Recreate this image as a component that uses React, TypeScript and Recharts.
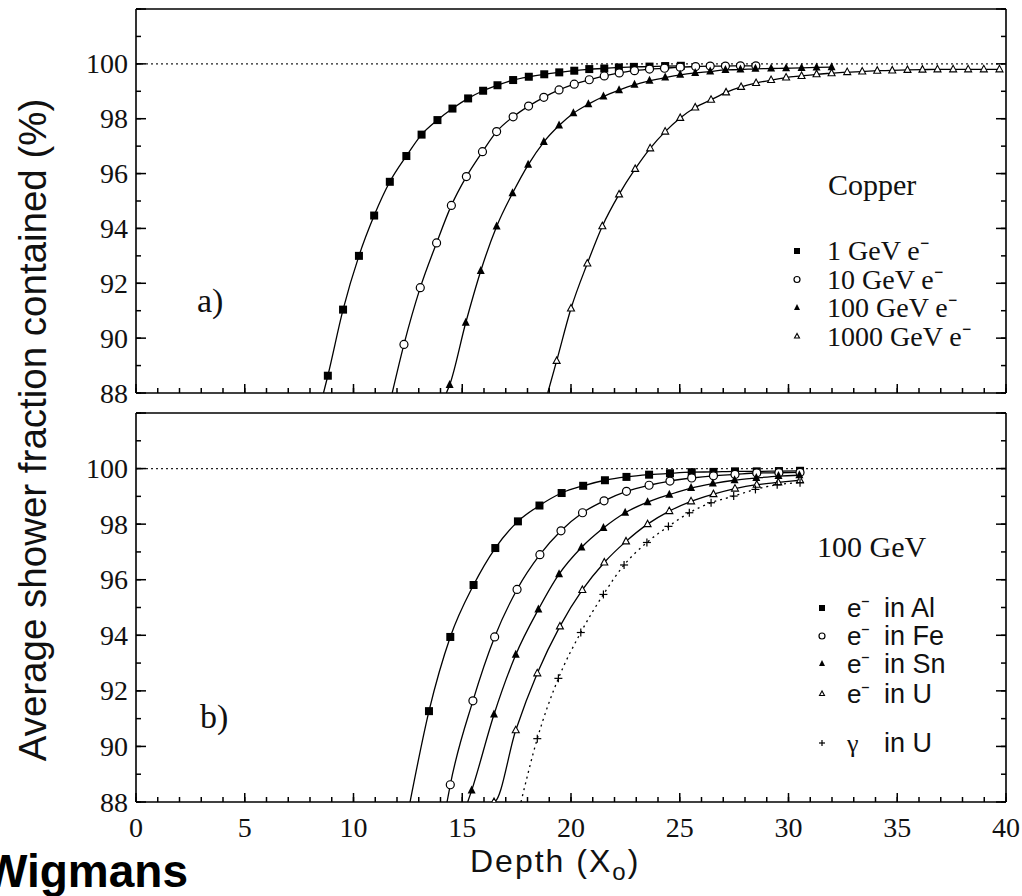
import React from "react";
import { ComposedChart, Line, XAxis, YAxis, ReferenceLine, Legend } from "recharts";

const SERIF = '"Liberation Serif", "Times New Roman", serif';
const SANS = '"Liberation Sans", Arial, sans-serif';

// ---- panel a) Copper, electrons of different energies ----
const cu1X = [8.82, 9.52, 10.25, 10.95, 11.67, 12.43, 13.13, 13.86, 14.55, 15.27, 15.96, 16.62, 17.34, 18.06, 18.77, 19.46, 20.15, 20.84, 21.53, 22.2, 22.89, 23.61, 24.33, 25.05];
const cu1Y = [88.63, 91.04, 93.0, 94.47, 95.7, 96.64, 97.42, 97.95, 98.37, 98.74, 99.02, 99.22, 99.41, 99.53, 99.62, 99.69, 99.75, 99.81, 99.83, 99.87, 99.89, 99.9, 99.92, 99.93];

const cu10X = [12.32, 13.07, 13.82, 14.5, 15.19, 15.93, 16.58, 17.34, 18.05, 18.75, 19.45, 20.15, 20.84, 21.53, 22.22, 22.92, 23.61, 24.3, 25.02, 25.73, 26.4, 27.1, 27.79, 28.5];
const cu10Y = [89.77, 91.84, 93.47, 94.84, 95.89, 96.8, 97.53, 98.07, 98.46, 98.78, 99.05, 99.26, 99.42, 99.56, 99.67, 99.75, 99.81, 99.84, 99.88, 99.9, 99.92, 99.92, 99.93, 99.93];

const cu100X = [14.42, 15.16, 15.85, 16.58, 17.31, 18.03, 18.75, 19.45, 20.11, 20.8, 21.49, 22.21, 22.92, 23.61, 24.33, 25.02, 25.71, 26.4, 27.1, 27.79, 28.48, 29.2, 29.89, 30.6, 31.29, 31.98];
const cu100Y = [88.29, 90.56, 92.45, 94.07, 95.28, 96.32, 97.15, 97.75, 98.2, 98.53, 98.81, 99.04, 99.24, 99.38, 99.5, 99.6, 99.67, 99.72, 99.78, 99.79, 99.82, 99.83, 99.84, 99.85, 99.87, 99.88];

const cu1000X = [19.34, 20.0, 20.75, 21.44, 22.21, 22.95, 23.64, 24.33, 25.02, 25.71, 26.44, 27.13, 27.82, 28.51, 29.2, 29.89, 30.6, 31.29, 31.98, 32.7, 33.39, 34.08, 34.77, 35.47, 36.16, 36.85, 37.57, 38.26, 38.98, 39.7];
const cu1000Y = [89.17, 91.08, 92.72, 94.08, 95.24, 96.17, 96.92, 97.53, 98.03, 98.41, 98.69, 98.96, 99.16, 99.3, 99.41, 99.5, 99.56, 99.62, 99.66, 99.7, 99.72, 99.75, 99.76, 99.78, 99.79, 99.8, 99.8, 99.8, 99.8, 99.8];

// depth where each fitted curve leaves the 88% floor
const cuCurveStart = [8.62, 11.78, 14.27, 18.93];

// ---- panel b) 100 GeV in different absorbers ----
const alX = [13.47, 14.45, 15.52, 16.52, 17.56, 18.55, 19.57, 20.56, 21.56, 22.55, 23.59, 24.55, 25.55, 26.55, 27.54, 28.54, 29.56, 30.53];
const alY = [91.27, 93.94, 95.81, 97.14, 98.1, 98.67, 99.12, 99.38, 99.58, 99.7, 99.78, 99.83, 99.87, 99.88, 99.9, 99.9, 99.91, 99.92];

const feX = [14.45, 15.49, 16.49, 17.52, 18.57, 19.54, 20.53, 21.52, 22.55, 23.59, 24.55, 25.55, 26.55, 27.54, 28.54, 29.56, 30.53];
const feY = [88.62, 91.64, 93.94, 95.65, 96.9, 97.76, 98.41, 98.84, 99.18, 99.4, 99.55, 99.66, 99.74, 99.79, 99.84, 99.85, 99.86];

const snX = [15.43, 16.46, 17.46, 18.5, 19.45, 20.48, 21.49, 22.49, 23.52, 24.52, 25.52, 26.52, 27.52, 28.52, 29.54, 30.5];
const snY = [88.41, 91.15, 93.3, 94.93, 96.2, 97.16, 97.86, 98.41, 98.79, 99.06, 99.3, 99.46, 99.58, 99.66, 99.73, 99.76];

const uX = [16.46, 17.46, 18.45, 19.49, 20.52, 21.53, 22.53, 23.52, 24.52, 25.52, 26.55, 27.54, 28.54, 29.53, 30.53];
const uY = [88.0, 90.58, 92.63, 94.32, 95.63, 96.62, 97.38, 98.0, 98.47, 98.82, 99.08, 99.28, 99.42, 99.5, 99.58];

const gammaX = [18.45, 19.42, 20.45, 21.49, 22.44, 23.49, 24.48, 25.44, 26.44, 27.48, 28.48, 29.48, 30.53];
const gammaY = [90.28, 92.45, 94.1, 95.47, 96.53, 97.34, 97.92, 98.41, 98.77, 99.01, 99.25, 99.42, 99.49];

const bCurveStart = [12.6, 14.3, 15.25, 16.4, 17.7];

// axes
const xTicks = [0, 1, 2, 3, 4, 5, 6, 7, 8, 9, 10, 11, 12, 13, 14, 15, 16, 17, 18, 19, 20, 21, 22, 23, 24, 25, 26, 27, 28, 29, 30, 31, 32, 33, 34, 35, 36, 37, 38, 39, 40];
const yTicks = [88, 89, 90, 91, 92, 93, 94, 95, 96, 97, 98, 99, 100, 101, 102];
const FLOOR = 88;

const cuLabels = ["1 GeV e⁻", "10 GeV e⁻", "100 GeV e⁻", "1000 GeV e⁻"];
const bLabels = ["e⁻", "e⁻", "e⁻", "e⁻", "γ"];
const bTargets = ["in Al", "in Fe", "in Sn", "in U", "in U"];

type Shape = "square" | "circle" | "tri" | "triOpen" | "plus";

const toData = (start: number, xs: number[], ys: number[]) => [
  { x: start, y: FLOOR, bare: true },
  ...xs.map((x, i) => ({ x, y: ys[i] })),
];

const seriesA = [
  { id: "cu1", shape: "square" as Shape, data: toData(cuCurveStart[0], cu1X, cu1Y) },
  { id: "cu10", shape: "circle" as Shape, data: toData(cuCurveStart[1], cu10X, cu10Y) },
  { id: "cu100", shape: "tri" as Shape, data: toData(cuCurveStart[2], cu100X, cu100Y) },
  { id: "cu1000", shape: "triOpen" as Shape, data: toData(cuCurveStart[3], cu1000X, cu1000Y) },
];

const seriesB = [
  { id: "al", shape: "square" as Shape, data: toData(bCurveStart[0], alX, alY) },
  { id: "fe", shape: "circle" as Shape, data: toData(bCurveStart[1], feX, feY) },
  { id: "sn", shape: "tri" as Shape, data: toData(bCurveStart[2], snX, snY) },
  { id: "u", shape: "triOpen" as Shape, data: toData(bCurveStart[3], uX, uY) },
  { id: "gamma", shape: "plus" as Shape, data: toData(bCurveStart[4], gammaX, gammaY), dotted: true },
];

function Marker({ shape, cx, cy, s = 8 }: { shape: Shape; cx: number; cy: number; s?: number }) {
  const h = s / 2;
  switch (shape) {
    case "square":
      return <rect x={cx - h} y={cy - h} width={s} height={s} fill="#000" />;
    case "circle":
      return <circle cx={cx} cy={cy} r={h} fill="#fff" stroke="#000" strokeWidth={1.2} />;
    case "tri":
      return <polygon points={`${cx},${cy - h - 1} ${cx - h},${cy + h - 1} ${cx + h},${cy + h - 1}`} fill="#000" />;
    case "triOpen":
      return (
        <polygon
          points={`${cx},${cy - h} ${cx - h + 0.5},${cy + h - 1.5} ${cx + h - 0.5},${cy + h - 1.5}`}
          fill="#fff"
          stroke="#000"
          strokeWidth={1.1}
        />
      );
    default:
      return (
        <g stroke="#000" strokeWidth={1.2}>
          <line x1={cx - h} x2={cx + h} y1={cy} y2={cy} />
          <line x1={cx} x2={cx} y1={cy - h} y2={cy + h} />
        </g>
      );
  }
}

const dotFor = (shape: Shape) => (props: any) => {
  const { cx, cy, payload, index } = props;
  if (!payload || payload.bare || cx == null || cy == null) return <g key={`b${index}`} />;
  return (
    <g key={`m${index}`}>
      <Marker shape={shape} cx={cx} cy={cy} />
    </g>
  );
};

const axisStyle = { stroke: "#000", strokeWidth: 1.6 };
const tickLineStyle = { stroke: "#000", strokeWidth: 1.5 };
const TICK_IN = 5; // minor tick length (inward)
const MAJOR = 9; // major tick length

// labels and the longer major ticks; the short inward tick comes from tickLine
const BottomTick = (props: any) => {
  const { x, y, payload, showLabel } = props;
  const v = payload.value;
  if (v % 5 !== 0) return <g />;
  const axisY = y + TICK_IN;
  return (
    <g>
      <line x1={x} x2={x} y1={axisY} y2={axisY - MAJOR} stroke="#000" strokeWidth={1.5} />
      {showLabel && (
        <text x={x} y={axisY + 35} textAnchor="middle" fontFamily={SERIF} fontSize={28} fill="#111">
          {v}
        </text>
      )}
    </g>
  );
};

const TopTick = (props: any) => {
  const { x, y, payload } = props;
  if (payload.value % 5 !== 0) return <g />;
  const axisY = y - TICK_IN;
  return <line x1={x} x2={x} y1={axisY} y2={axisY + MAJOR} stroke="#000" strokeWidth={1.5} />;
};

const LeftTick = (props: any) => {
  const { x, y, payload } = props;
  const v = payload.value;
  if (v % 2 !== 0) return <g />;
  const axisX = x - TICK_IN;
  return (
    <g>
      <line x1={axisX} x2={axisX + MAJOR + 1} y1={y} y2={y} stroke="#000" strokeWidth={1.5} />
      {v <= 100 && (
        <text x={axisX - 8} y={y + 9.5} textAnchor="end" fontFamily={SERIF} fontSize={28} fill="#111">
          {v}
        </text>
      )}
    </g>
  );
};

const RightTick = (props: any) => {
  const { x, y, payload } = props;
  if (payload.value % 2 !== 0) return <g />;
  const axisX = x + TICK_IN;
  return <line x1={axisX} x2={axisX - MAJOR - 1} y1={y} y2={y} stroke="#000" strokeWidth={1.5} />;
};

const CopperLegend = () => (
  <svg width={240} height={220} style={{ display: "block" }}>
    <text x={48} y={45} fontFamily={SERIF} fontSize={30} fill="#111">
      Copper
    </text>
    {seriesA.map((s, i) => {
      const base = 110 + i * 28.5;
      return (
        <g key={s.id}>
          <Marker shape={s.shape} cx={17} cy={base - 9} s={6} />
          <text x={47} y={base} fontFamily={SERIF} fontSize={28} fill="#111">
            {cuLabels[i]}
          </text>
        </g>
      );
    })}
  </svg>
);

const AbsorberLegend = () => {
  const bases = [87, 115, 143, 173, 222];
  return (
    <svg width={240} height={240} style={{ display: "block" }}>
      <text x={37} y={27} fontFamily={SERIF} fontSize={30} fill="#111">
        100 GeV
      </text>
      {seriesB.map((s, i) => (
        <g key={s.id}>
          <Marker shape={s.shape} cx={42} cy={bases[i] - 9} s={6} />
          <text x={67} y={bases[i]} fontFamily={i < 4 ? SANS : SERIF} fontSize={26} fill="#111">
            {bLabels[i]}
          </text>
          <text x={104} y={bases[i]} fontFamily={SANS} fontSize={27} fill="#111">
            {bTargets[i]}
          </text>
        </g>
      ))}
    </svg>
  );
};

const DepthLabel = (props: any) => {
  const vb = props.viewBox || { x: 136, y: 802 };
  const x = vb.x + 334;
  const y = vb.y + 70;
  return (
    <text x={x} y={y} fontFamily={SANS} fontSize={32} letterSpacing={2} fill="#111">
      Depth (X
      <tspan dy={8} fontSize={24}>
        o
      </tspan>
      <tspan dy={-8}>)</tspan>
    </text>
  );
};

type PanelProps = {
  series: { id: string; shape: Shape; data: any[]; dotted?: boolean }[];
  height: number;
  marginTop: number;
  marginBottom: number;
  axisHeight: number;
  showXLabels: boolean;
  legend: () => React.ReactElement;
  legendPos: { left: number; top: number; width: number; height: number };
};

function Panel({ series, height, marginTop, marginBottom, axisHeight, showXLabels, legend, legendPos }: PanelProps) {
  return (
    <ComposedChart width={1022} height={height} margin={{ top: marginTop, right: 15, bottom: marginBottom, left: 0 }}>
      <XAxis
        dataKey="x"
        type="number"
        domain={[0, 40]}
        ticks={xTicks}
        interval={0}
        allowDataOverflow
        height={axisHeight}
        tickSize={-TICK_IN}
        tickMargin={0}
        tickLine={tickLineStyle}
        axisLine={axisStyle}
        tick={(p: any) => <BottomTick {...p} showLabel={showXLabels} />}
        label={showXLabels ? <DepthLabel /> : undefined}
      />
      <XAxis
        xAxisId="t"
        orientation="top"
        type="number"
        domain={[0, 40]}
        ticks={xTicks}
        interval={0}
        allowDataOverflow
        height={1}
        tickSize={-TICK_IN}
        tickMargin={0}
        tickLine={tickLineStyle}
        axisLine={axisStyle}
        tick={TopTick}
      />
      <YAxis
        type="number"
        domain={[88, 102]}
        ticks={yTicks}
        interval={0}
        allowDataOverflow
        width={136}
        tickSize={-TICK_IN}
        tickMargin={0}
        tickLine={tickLineStyle}
        axisLine={axisStyle}
        tick={LeftTick}
      />
      <YAxis
        yAxisId="r"
        orientation="right"
        type="number"
        domain={[88, 102]}
        ticks={yTicks}
        interval={0}
        allowDataOverflow
        width={1}
        tickSize={-TICK_IN}
        tickMargin={0}
        tickLine={tickLineStyle}
        axisLine={axisStyle}
        tick={RightTick}
      />
      <ReferenceLine y={100} stroke="#222" strokeWidth={1.2} strokeDasharray="2 3" />
      <ReferenceLine xAxisId="t" yAxisId="r" y={100} stroke="none" />
      {series.map((s) => (
        <Line
          key={s.id}
          data={s.data}
          dataKey="y"
          type="monotone"
          stroke="#000"
          strokeWidth={1.3}
          strokeDasharray={s.dotted ? "2 4" : undefined}
          dot={dotFor(s.shape)}
          activeDot={false}
          isAnimationActive={false}
          legendType="none"
        />
      ))}
      <Legend
        layout="horizontal"
        verticalAlign="middle"
        align="center"
        content={legend}
        wrapperStyle={{ ...legendPos, position: "absolute" }}
      />
    </ComposedChart>
  );
}

export default function App() {
  return (
    <div style={{ position: "absolute", left: 0, top: 0, width: 1022, height: 896, background: "#fff", overflow: "hidden" }}>
      <div style={{ position: "absolute", left: 0, top: 0 }}>
        <Panel
          series={seriesA}
          height={412}
          marginTop={8}
          marginBottom={18}
          axisHeight={1}
          showXLabels={false}
          legend={CopperLegend}
          legendPos={{ left: 780, top: 150, width: 240, height: 220 }}
        />
      </div>
      <div style={{ position: "absolute", left: 0, top: 400 }}>
        <Panel
          series={seriesB}
          height={496}
          marginTop={12}
          marginBottom={0}
          axisHeight={94}
          showXLabels
          legend={AbsorberLegend}
          legendPos={{ left: 780, top: 130, width: 240, height: 240 }}
        />
      </div>
      <svg width={1022} height={896} style={{ position: "absolute", left: 0, top: 0, pointerEvents: "none" }}>
        <text
          x={46}
          y={430}
          transform="rotate(-90 46 430)"
          textAnchor="middle"
          fontFamily={SANS}
          fontSize={38.5}
          fill="#111"
        >
          Average shower fraction contained (%)
        </text>
        <text x={197} y={312} fontFamily={SERIF} fontSize={34} fill="#111">
          a)
        </text>
        <text x={200} y={728} fontFamily={SERIF} fontSize={34} fill="#111">
          b)
        </text>
        <text x={188} y={887} textAnchor="end" fontFamily={SANS} fontWeight="bold" fontSize={46} fill="#000">
          Wigmans
        </text>
      </svg>
    </div>
  );
}
